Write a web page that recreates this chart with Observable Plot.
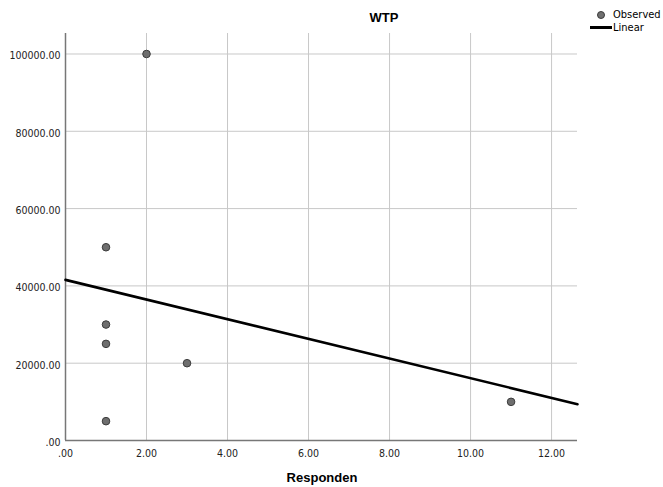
<!DOCTYPE html>
<html>
<head>
<meta charset="utf-8">
<script src="https://cdn.jsdelivr.net/npm/d3@7"></script>
<script src="https://cdn.jsdelivr.net/npm/@observablehq/plot@0.6"></script>
<style>
  html, body { margin: 0; padding: 0; background: #fff; }
  #wrap { position: relative; width: 663px; height: 487px; overflow: hidden; font-family: "Liberation Sans Narrow", "DejaVu Sans Condensed", Arial, sans-serif; }
  #title { position: absolute; left: 342px; width: 84px; top: 10px; text-align: center; font-family: Arial, "Liberation Sans", sans-serif; font-weight: bold; font-size: 13px; color: #000; }
  #xlabel { position: absolute; left: 262px; width: 120px; top: 470px; text-align: center; font-family: Arial, "Liberation Sans", sans-serif; font-weight: bold; font-size: 13px; line-height: 15px; color: #000; }
  #legend { position: absolute; left: 588px; top: 8px; font-size: 11px; color: #000; line-height: 13px; }
  .lg-row { display: flex; align-items: center; height: 13px; }
  .lg-sym { width: 25px; height: 13px; position: relative; }
  .dot { position: absolute; left: 9px; top: 3px; width: 6px; height: 6px; border-radius: 50%; background: #707070; border: 1px solid #3c3c3c; }
  .ln { position: absolute; left: 2px; top: 5px; width: 22px; height: 3px; background: #000; }
  svg { position: absolute; left: 0; top: 0; }
</style>
</head>
<body>
<div id="wrap">
  <div id="title">WTP</div>
  <div id="legend">
    <div class="lg-row"><div class="lg-sym"><div class="dot"></div></div><span>Observed</span></div>
    <div class="lg-row"><div class="lg-sym"><div class="ln"></div></div><span>Linear</span></div>
  </div>
  <div id="xlabel">Responden</div>
</div>
<script>
// Observed data (Responden, WTP)
const respX = [2, 1, 1, 1, 3, 1, 11];
const wtpY = [100000, 50000, 30000, 25000, 20000, 5000, 10000];
// Linear fit line endpoints
const fitX = [0, 12.64];
const fitY = [41555, 9400];
// Tick values
const xTicks = [0, 2, 4, 6, 8, 10, 12];
const yTicks = [0, 20000, 40000, 60000, 80000, 100000];

const observed = respX.map((x, i) => ({x, y: wtpY[i]}));
const fit = fitX.map((x, i) => ({x, y: fitY[i]}));
const fmt = v => d3.format(".2f")(v).replace(/^0\./, ".");

const chart = Plot.plot({
  width: 663,
  height: 487,
  marginLeft: 65,
  marginRight: 86,
  marginTop: 33,
  marginBottom: 47,
  style: { fontFamily: '"Liberation Sans Narrow", "DejaVu Sans Condensed", Arial, sans-serif', fontSize: "10.5px", background: "transparent" },
  x: { domain: [0, 12.64], ticks: xTicks, tickFormat: fmt, label: null },
  y: { domain: [0, 105300], ticks: yTicks, tickFormat: fmt, label: null },
  marks: [
    Plot.gridX(xTicks, { stroke: "#c8c8c8", strokeOpacity: 1, strokeWidth: 1 }),
    Plot.gridY(yTicks, { stroke: "#c8c8c8", strokeOpacity: 1, strokeWidth: 1 }),
    Plot.axisX(xTicks, { tickSize: 0, tickPadding: 9, tickFormat: fmt, fill: "#222", label: null }),
    Plot.axisY(yTicks, { tickSize: 0, tickPadding: 5, tickFormat: fmt, fill: "#222", label: null, dy: 2 }),
    Plot.ruleY([0], { stroke: "#777", strokeWidth: 1.5 }),
    Plot.ruleX([0], { stroke: "#777", strokeWidth: 1.5 }),
    Plot.line(fit, { x: "x", y: "y", stroke: "#000", strokeWidth: 2.6 }),
    Plot.dot(observed, { x: "x", y: "y", r: 3.8, fill: "#6e6e6e", stroke: "#3c3c3c", strokeWidth: 1 })
  ]
});
document.getElementById("wrap").prepend(chart);
</script>
</body>
</html>
